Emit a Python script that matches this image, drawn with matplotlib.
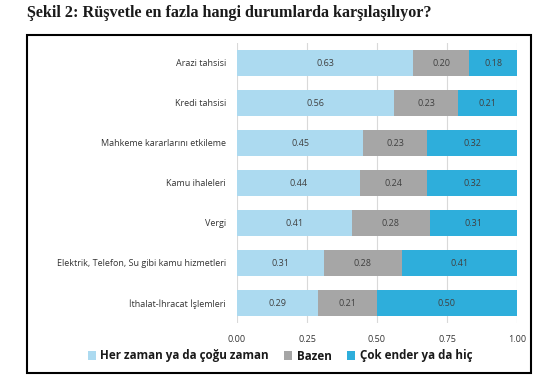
import matplotlib
matplotlib.use("Agg")
import matplotlib.pyplot as plt
from matplotlib.patches import Rectangle

categories = ["Arazi tahsisi", "Kredi tahsisi", "Mahkeme kararlarını etkileme",
              "Kamu ihaleleri", "Vergi", "Elektrik, Telefon, Su gibi kamu hizmetleri",
              "İthalat-İhracat İşlemleri"]
her_zaman = [0.63, 0.56, 0.45, 0.44, 0.41, 0.31, 0.29]
bazen = [0.20, 0.23, 0.23, 0.24, 0.28, 0.28, 0.21]
cok_ender = [0.18, 0.21, 0.32, 0.32, 0.31, 0.41, 0.50]
series_names = ["Her zaman ya da çoğu zaman", "Bazen", "Çok ender ya da hiç"]
xticks = [0.0, 0.25, 0.5, 0.75, 1.0]
xtick_labels = ["0.00", "0.25", "0.50", "0.75", "1.00"]
title = "Şekil 2: Rüşvetle en fazla hangi durumlarda karşılaşılıyor?"

colors = ["#acdaf0", "#a6a6a6", "#2eaedb"]
font = ["Open Sans", "DejaVu Sans"]

W, H = 550, 379
fig = plt.figure(figsize=(W / 100, H / 100), dpi=100)
ax = fig.add_axes([237 / W, (H - 323) / H, 280 / W, 280 / H])

y = list(range(len(categories)))
left = [0.0] * len(categories)
for vals, col, name in zip([her_zaman, bazen, cok_ender], colors, series_names):
    ax.barh(y, vals, left=left, height=0.65, color=col, label=name, zorder=2)
    for yi, l, v in zip(y, left, vals):
        cx = (l + 1.0) / 2 if l + v > 1 else l + v / 2
        ax.text(cx, yi, f"{v:.2f}", ha="center", va="center", fontsize=6.5,
                color="#404040", family=font, zorder=3)
    left = [a + b for a, b in zip(left, vals)]

ax.set_xlim(0, 1.0)
ax.set_ylim(len(categories) - 0.5, -0.5)
ax.set_yticks(y)
ax.set_yticklabels(categories, fontsize=6.5, family=font, color="#333333")
ax.set_xticks(xticks)
ax.set_xticklabels(xtick_labels, fontsize=6.5, family=font, color="#333333")
ax.tick_params(axis="y", length=0, pad=8)
ax.tick_params(axis="x", length=0, pad=9)
ax.grid(axis="x", color="#d9d9d9", linewidth=0.8, zorder=0)
for s in ax.spines.values():
    s.set_visible(False)

leg = fig.legend(loc="center", bbox_to_anchor=(280 / W, 1 - 356 / H), ncol=3,
                 frameon=False, prop={"family": font, "weight": "bold", "size": 8.4},
                 handlelength=0.7, handleheight=0.7, handletextpad=0.4, columnspacing=1.3)
for t in leg.get_texts():
    t.set_color("#1a1a1a")

fig.patches.append(Rectangle((27 / W, 1 - 373 / H), 504 / W, 338 / H, transform=fig.transFigure,
                             fill=False, edgecolor="black", linewidth=1.5))
fig.text(27 / W, 1 - 13 / H, title, ha="left", va="center", fontsize=11.6,
         family=["Liberation Serif", "DejaVu Serif"], weight="bold", color="#1a1a1a")

fig.savefig("out.png", dpi=100, facecolor="white")
